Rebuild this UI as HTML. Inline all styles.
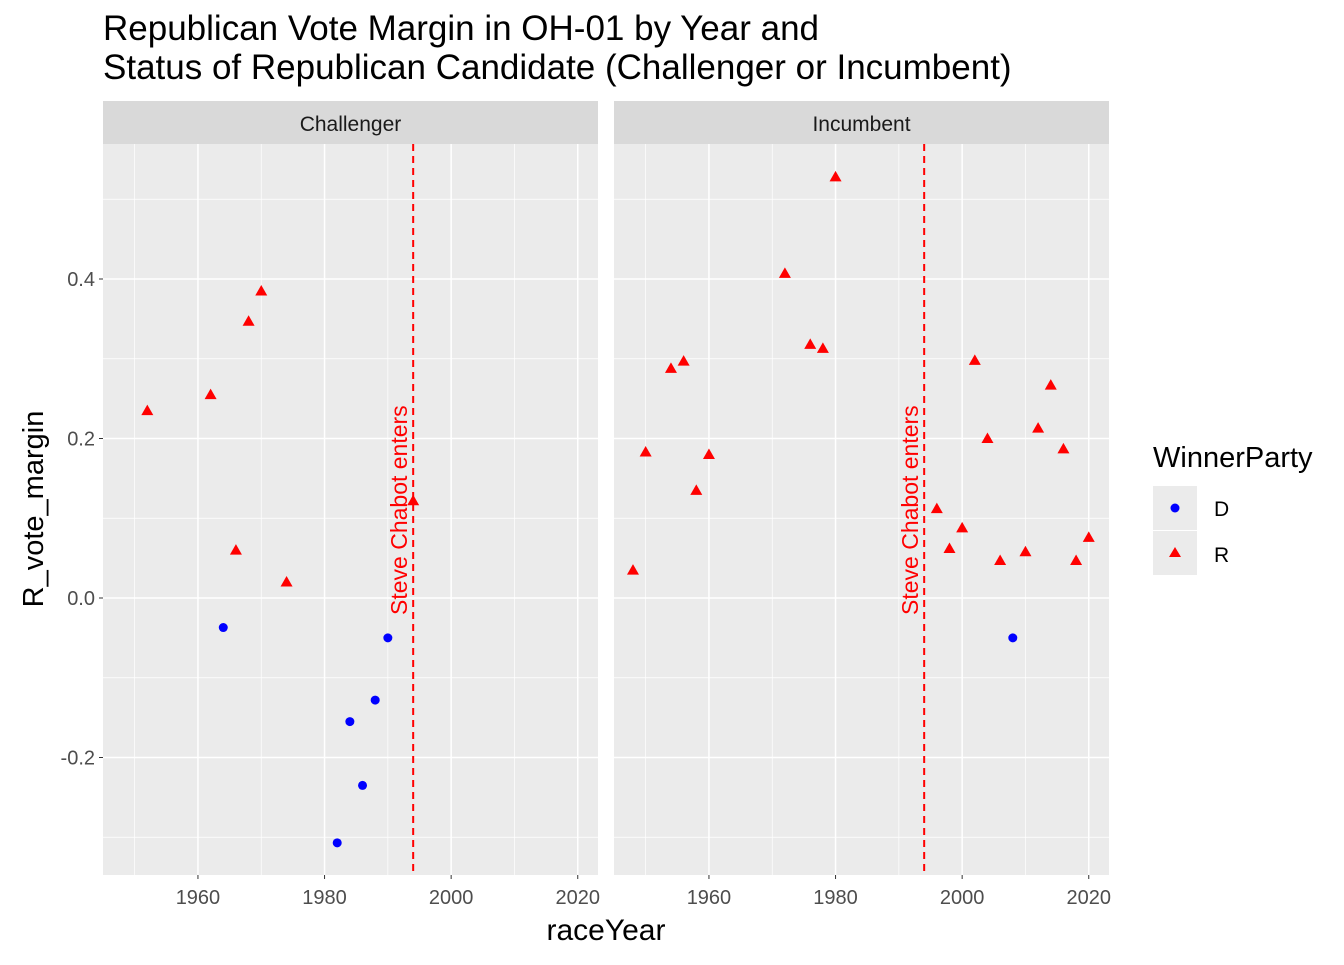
<!DOCTYPE html>
<html><head><meta charset="utf-8"><style>
body{margin:0;background:#fff;font-family:"Liberation Sans",Arial,sans-serif}
</style></head><body>
<svg id="chart" width="1344" height="960" xmlns="http://www.w3.org/2000/svg" font-family="Liberation Sans, Arial, sans-serif">
<text x="103" y="40" font-size="35" fill="#000">Republican Vote Margin in OH-01 by Year and</text>
<text x="103" y="79" font-size="35" fill="#000">Status of Republican Candidate (Challenger or Incumbent)</text>
<g id="panels"></g>
<text x="606" y="940" font-size="30" text-anchor="middle">raceYear</text>
<text transform="translate(43,509) rotate(-90)" font-size="29" text-anchor="middle">R_vote_margin</text>
<g>
<text x="1153" y="467" font-size="29">WinnerParty</text>
<rect x="1153" y="486" width="44" height="44" fill="#ebebeb"/>
<circle cx="1175" cy="508" r="4.5" fill="#0000ff"/>
<text x="1214" y="516" font-size="21">D</text>
<rect x="1153" y="531" width="44" height="44" fill="#ebebeb"/>
<path d="M1175,547 L1181,557 L1169,557 Z" fill="#ff0000"/>
<text x="1214" y="562" font-size="21">R</text>
</g>
</svg>
<script>
const chYears=[1952,1962,1964,1966,1968,1970,1974,1982,1984,1986,1988,1990,1994];
const chMargins=[0.235,0.255,-0.037,0.06,0.347,0.385,0.02,-0.307,-0.155,-0.235,-0.128,-0.05,0.122];
const chParty=["R","R","D","R","R","R","R","D","D","D","D","D","R"];
const inYears=[1948,1950,1954,1956,1958,1960,1972,1976,1978,1980,1996,1998,2000,2002,2004,2006,2008,2010,2012,2014,2016,2018,2020];
const inMargins=[0.035,0.183,0.288,0.297,0.135,0.18,0.407,0.318,0.313,0.528,0.112,0.062,0.088,0.298,0.2,0.047,-0.05,0.058,0.213,0.267,0.187,0.047,0.076];
const inParty=["R","R","R","R","R","R","R","R","R","R","R","R","R","R","R","R","D","R","R","R","R","R","R"];
const xTicks=[1960,1980,2000,2020];
const xMinor=[1950,1970,1990,2010];
const yTicks=[-0.2,0,0.2,0.4];
const yMinor=[-0.3,-0.1,0.1,0.3,0.5];
const panelNames=["Challenger","Incumbent"];
const vlineYear=1994;

const NS="http://www.w3.org/2000/svg";
const plotTop=144,plotBot=875,W=495;
function X(y,x0){return x0+(y-1945)*6.33;}
function Y(v){return 598-v*797.5;}
function mk(tag,attrs,parent){const e=document.createElementNS(NS,tag);for(const k in attrs)e.setAttribute(k,attrs[k]);parent.appendChild(e);return e;}
const root=document.getElementById('panels');
const panelX=[103,614];
const data=[[chYears,chMargins,chParty],[inYears,inMargins,inParty]];
panelNames.forEach((nm,pi)=>{
  const x0=panelX[pi];
  const g=mk('g',{},root);
  
  
  const bg=mk('rect',{x:x0,y:plotTop,width:W,height:plotBot-plotTop,fill:'#ebebeb'},g);
  
  
  const st=mk('rect',{x:x0,y:101,width:W,height:43,fill:'#d9d9d9'},g);
  
  
  const stt=mk('text',{x:x0+W/2,y:131,'font-size':21,'text-anchor':'middle',fill:'#1a1a1a'},g);
  stt.textContent=nm;
  
  
  xMinor.forEach(t=>{const l=mk('line',{x1:X(t,x0),x2:X(t,x0),y1:plotTop,y2:plotBot,stroke:'#fff','stroke-width':0.7},g);});
  yMinor.forEach(t=>{const l=mk('line',{x1:x0,x2:x0+W,y1:Y(t),y2:Y(t),stroke:'#fff','stroke-width':0.7},g);});
  xTicks.forEach(t=>{
    const l=mk('line',{x1:X(t,x0),x2:X(t,x0),y1:plotTop,y2:plotBot,stroke:'#fff','stroke-width':1.5},g);
    
    
    const tk=mk('line',{x1:X(t,x0),x2:X(t,x0),y1:plotBot,y2:plotBot+4,stroke:'#333','stroke-width':1},g);
    
    
    const tx=mk('text',{x:X(t,x0),y:plotBot+29,'font-size':20,'text-anchor':'middle',fill:'#4d4d4d'},g);
    tx.textContent=t;
    
    
  });
  yTicks.forEach(t=>{
    const l=mk('line',{x1:x0,x2:x0+W,y1:Y(t),y2:Y(t),stroke:'#fff','stroke-width':1.5},g);
    
    
    if(pi===0){
      const tk=mk('line',{x1:x0-4,x2:x0,y1:Y(t),y2:Y(t),stroke:'#333'},g);
      
      
      const tx=mk('text',{x:x0-8,y:Y(t)+7,'font-size':20,'text-anchor':'end',fill:'#4d4d4d'},g);
      tx.textContent=t===0?'0.0':t.toFixed(1);
      
      
    }
  });
  const vx=X(vlineYear,x0);
  const vl=mk('line',{x1:vx,x2:vx,y1:plotTop,y2:plotBot,stroke:'#ff0000','stroke-width':2,'stroke-dasharray':'7,5'},g);
  
  
  const an=mk('text',{transform:`translate(${vx-6},${Y(0)+17}) rotate(-90)`,'font-size':23,fill:'#ff0000'},g);
  an.textContent='Steve Chabot enters';
  
  
  const [ys,ms,ps]=data[pi];
  ys.forEach((yr,i)=>{
    const cx=X(yr,x0),cy=Y(ms[i]);
    let p;
    if(ps[i]==='D'){p=mk('circle',{cx:cx,cy:cy,r:4.5,fill:'#0000ff'},g);}
    else{p=mk('path',{d:`M${cx},${cy-6} L${cx+6},${cy+4.5} L${cx-6},${cy+4.5} Z`,fill:'#ff0000'},g);}
    
    
  });
});
</script>
</body></html>
